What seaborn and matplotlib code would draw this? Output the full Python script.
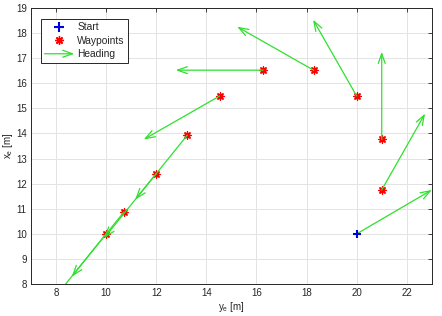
import numpy as np
import seaborn as sns
import matplotlib
matplotlib.use('Agg')
import matplotlib.pyplot as plt
from matplotlib.patches import FancyArrowPatch
from matplotlib.lines import Line2D
from matplotlib.legend_handler import HandlerBase

# ------------------- Data -------------------
start_y = [20.0]
start_x = [10.0]
start_dy = [3.0]
start_dx = [1.75]

wp_y = [10.0, 10.71, 12.0, 13.24, 14.53, 16.27, 18.28, 20.0, 21.0, 21.0]
wp_x = [10.0, 10.87, 12.4, 13.93, 15.49, 16.52, 16.52, 15.49, 13.76, 11.75]
# heading vectors (components along y_e and x_e)
head_dy = [-2.08, -2.08, -2.08, -2.08, -3.03, -3.49, -3.05, -1.74, 0.0, 1.73]
head_dx = [-2.57, -2.57, -2.57, -2.57, -1.73, 0.0, 1.73, 3.04, 3.49, 3.04]

x_ticks = list(range(8, 23, 2))
y_ticks = list(range(8, 20))

GREEN = '#2ee02e'
ARROW = '->,head_length=0.7,head_width=0.25'
FS = 7

# ------------------- Style -------------------
sns.set_style('whitegrid')
plt.rcParams['font.family'] = ['Liberation Sans', 'DejaVu Sans']
plt.rcParams['mathtext.default'] = 'regular'

fig = plt.figure(figsize=(4.42, 3.16), dpi=100)
ax = fig.add_axes([0.070, 0.101, 0.907, 0.874])

# ------------------- Heading arrows -------------------
def add_arrow(y0, x0, dy, dx):
    arr = FancyArrowPatch((y0, x0), (y0 + dy, x0 + dx), arrowstyle=ARROW,
                          mutation_scale=10, color=GREEN, lw=0.9,
                          shrinkA=0, shrinkB=0, zorder=4)
    ax.add_patch(arr)
    arr.set_clip_path(ax.patch)

for y0, x0, dy, dx in zip(start_y, start_x, start_dy, start_dx):
    add_arrow(y0, x0, dy, dx)
for y0, x0, dy, dx in zip(wp_y, wp_x, head_dy, head_dx):
    add_arrow(y0, x0, dy, dx)

# ------------------- Markers -------------------
sns.scatterplot(x=wp_y, y=wp_x, marker=(8, 2, 0), s=26, color='red',
                edgecolor='red', linewidth=1.0, ax=ax, zorder=3)
sns.scatterplot(x=start_y, y=start_x, marker='+', s=40, color='#0000dd',
                edgecolor='#0000dd', linewidth=1.5, ax=ax, zorder=5)

# ------------------- Axes -------------------
ax.set_xlim(7, 23)
ax.set_ylim(8, 19)
ax.set_xticks(x_ticks)
ax.set_yticks(y_ticks)
ax.set_xlabel(r'y$_e$ [m]', fontsize=FS, labelpad=1, color='#262626')
ax.set_ylabel(r'x$_e$ [m]', fontsize=FS, labelpad=1, color='#262626')
ax.tick_params(direction='in', length=3, width=0.6, labelsize=FS,
               colors='#262626', top=True, right=True, pad=3)
ax.grid(True, color='#e3e3e3', linewidth=0.7)
for sp in ax.spines.values():
    sp.set_color('#262626')
    sp.set_linewidth(0.7)

# ------------------- Legend -------------------
class HandlerArrow(HandlerBase):
    def create_artists(self, legend, orig_handle, xdescent, ydescent,
                       width, height, fontsize, trans):
        yc = height / 2 - ydescent
        p = FancyArrowPatch((-xdescent, yc), (width - xdescent, yc),
                            arrowstyle=ARROW, mutation_scale=10,
                            color=GREEN, lw=0.9, shrinkA=0, shrinkB=0)
        p.set_transform(trans)
        return [p]

h_start = Line2D([], [], marker='+', color='#0000dd', linestyle='none',
                 markersize=7, markeredgewidth=1.5)
h_wp = Line2D([], [], marker=(8, 2, 0), color='red', linestyle='none',
              markersize=6, markeredgewidth=1.0)
h_head = FancyArrowPatch((0, 0), (1, 0))
leg = ax.legend([h_start, h_wp, h_head], ['Start', 'Waypoints', 'Heading'],
                handler_map={FancyArrowPatch: HandlerArrow()},
                loc='upper left', bbox_to_anchor=(0.012, 0.98),
                fontsize=7.4, handlelength=2.9, handletextpad=0.3,
                labelspacing=0.35, borderpad=0.35, fancybox=False,
                framealpha=1, edgecolor='#262626')
leg.get_frame().set_linewidth(0.7)

fig.savefig('out.png', dpi=100)
